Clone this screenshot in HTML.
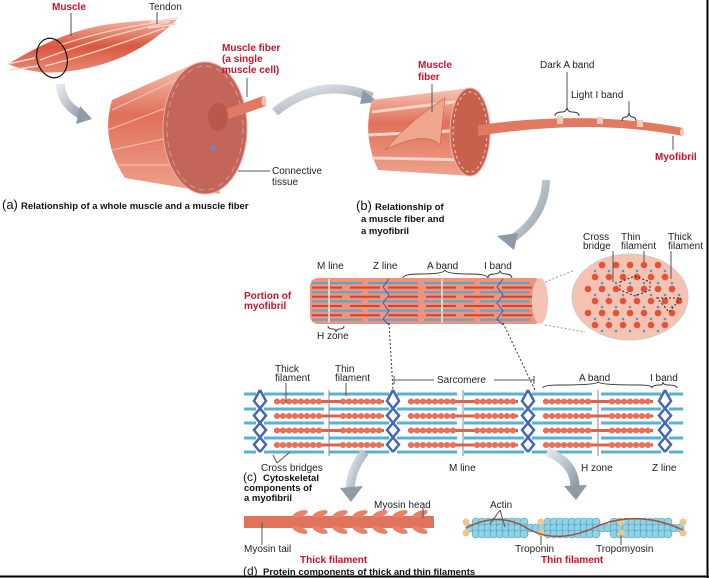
<!DOCTYPE html>
<html><head><meta charset="utf-8">
<style>
html,body{margin:0;padding:0;background:#fff;}
svg{display:block;font-family:"Liberation Sans",Arial,sans-serif;}
.l{font-size:10px;fill:#222;}
.r{font-size:10px;fill:#d0102a;font-weight:bold;}
.c{font-size:9.5px;fill:#111;font-weight:bold;}
.p{font-size:13px;fill:#111;}
</style></head><body>
<svg id="s" width="709" height="578" viewBox="0 0 709 578">
<defs>
<linearGradient id="mus" x1="0" y1="0" x2="0" y2="1"><stop offset="0" stop-color="#f2b3a0"/><stop offset=".5" stop-color="#d9583f"/><stop offset="1" stop-color="#e88a74"/></linearGradient>
<linearGradient id="cyl" x1="0" y1="0" x2="0" y2="1"><stop offset="0" stop-color="#f6c6b5"/><stop offset=".4" stop-color="#e0705a"/><stop offset="1" stop-color="#eea38e"/></linearGradient>
<linearGradient id="arr" x1="0" y1="0" x2="1" y2="1"><stop offset="0" stop-color="#e6eaee"/><stop offset="1" stop-color="#8e9aa6"/></linearGradient>
</defs>
<rect width="709" height="578" fill="#fff"/>
<line x1="707.5" y1="0" x2="707.5" y2="578" stroke="#000" stroke-width="2"/>
<line x1="0" y1="576.5" x2="709" y2="576.5" stroke="#000" stroke-width="2"/>

<!-- (a) whole muscle -->
<path d="M8,64 C40,45 70,30 110,24 C140,20 160,20 177,20 C165,30 150,45 120,58 C90,70 60,74 40,72 C25,70 15,67 8,64 Z" fill="url(#mus)"/>
<path d="M40,60 C80,45 120,32 170,22 M45,66 C90,55 130,40 165,28 M60,45 C90,35 130,25 170,21" stroke="#f6d0c4" stroke-width="1.3" fill="none"/>
<path d="M8,64 L35,58 M10,70 L38,66 M150,22 L178,18 M148,28 L176,24" stroke="#f3d7cf" stroke-width="1.5"/>
<ellipse cx="52" cy="58" rx="15" ry="20" fill="none" stroke="#111" stroke-width="1.2" transform="rotate(-15 52 58)"/>
<line x1="71" y1="13" x2="71" y2="36" stroke="#555"/>
<line x1="157" y1="12" x2="157" y2="24" stroke="#555"/>
<text x="52" y="10" class="r">Muscle</text>
<text x="149" y="10" class="l">Tendon</text>
<path d="M60,84 Q62,106 84,116" stroke="url(#arr)" stroke-width="9" fill="none"/>
<path d="M80,106 L92,119 L76,124 Z" fill="#8e9aa6"/>
<!-- cylinder a -->
<path d="M112,100 L198,62 L220,194 L125,178 Q100,140 112,100 Z" fill="url(#cyl)"/>
<path d="M112,110 L197,70 M108,130 L200,95 M112,150 L205,130 M118,165 L210,165" stroke="#f5c3b3" stroke-width="1" fill="none"/>
<ellipse cx="205" cy="128" rx="42" ry="66" fill="#c4655a" stroke="#e6b0a3"/>
<ellipse cx="205" cy="128" rx="38" ry="62" fill="none" stroke="#d99a90" stroke-dasharray="6 4"/>
<path d="M215,113 L263,96 L266,106 L220,122 Z" fill="#e07a62"/>
<ellipse cx="218" cy="117" rx="10" ry="14" fill="#b6584a"/>
<ellipse cx="264" cy="101" rx="2.5" ry="5" fill="#f3c0b0"/>
<circle cx="213" cy="148" r="2.5" fill="#5a8ed0"/>
<line x1="247" y1="78" x2="247" y2="97" stroke="#555"/>
<text x="222" y="51" class="r">Muscle fiber</text>
<text x="222" y="62" class="r">(a single</text>
<text x="222" y="73" class="r">muscle cell)</text>
<line x1="238" y1="171" x2="270" y2="171" stroke="#555"/>
<text x="272" y="174" class="l">Connective</text>
<text x="272" y="185" class="l">tissue</text>
<text x="2" y="209" class="p">(a)</text>
<text x="21" y="209" class="c">Relationship of a whole muscle and a muscle fiber</text>
<path d="M275,112 Q320,75 372,97" stroke="url(#arr)" stroke-width="9" fill="none"/>
<path d="M363,90 L378,102 L360,104 Z" fill="#8e9aa6"/>

<!-- (b) -->
<path d="M372,100 L470,88 L472,176 L378,170 Q362,135 372,100 Z" fill="url(#cyl)"/>
<path d="M372,112 L470,100 M368,135 L470,130 M372,158 L470,160" stroke="#f6d3c6" stroke-width="3" fill="none"/>
<path d="M385,150 Q410,120 445,98 L440,145 Q425,130 385,150 Z" fill="#f0a58d" stroke="#c7604c" stroke-width=".6"/>
<ellipse cx="470" cy="132" rx="20" ry="44" fill="#c8604e" stroke="#f0b5a5"/>
<ellipse cx="470" cy="132" rx="17" ry="40" fill="none" stroke="#f3c8bb" stroke-dasharray="3 3"/>
<path d="M478,125 Q590,110 683,128 L683,136 Q590,118 478,136 Z" fill="#e27a62"/>
<path d="M560,116 L560,124 M600,117 L600,124 M640,120 L640,127" stroke="#f6c9ba" stroke-width="6"/>
<ellipse cx="682" cy="132" rx="2" ry="4" fill="#f3c8bb"/>
<line x1="432" y1="84" x2="432" y2="112" stroke="#555"/>
<text x="418" y="68" class="r">Muscle</text>
<text x="418" y="80" class="r">fiber</text>
<text x="540" y="68" class="l">Dark A band</text>
<text x="571" y="98" class="l">Light I band</text>
<path d="M555,116 Q555,112 562,112 Q566,112 567,108 Q568,112 572,112 Q579,112 579,116" stroke="#333" fill="none"/>
<line x1="567" y1="72" x2="567" y2="108" stroke="#555"/>
<path d="M622,121 Q622,117 626,117 Q628,117 629,113 Q630,117 632,117 Q636,117 636,121" stroke="#333" fill="none"/>
<line x1="629" y1="101" x2="629" y2="113" stroke="#555"/>
<line x1="673" y1="136" x2="673" y2="150" stroke="#555"/>
<text x="655" y="160" class="r">Myofibril</text>
<text x="356" y="210" class="p">(b)</text>
<text x="375" y="210" class="c">Relationship of</text>
<text x="361" y="222" class="c">a muscle fiber and</text>
<text x="361" y="234" class="c">a myofibril</text>
<path d="M546,180 Q545,218 510,240" stroke="url(#arr)" stroke-width="8" fill="none"/>
<path d="M497,236 L514,250 L518,233 Z" fill="#8e9aa6"/>

<!-- portion of myofibril -->
<g id="myo"></g>
<text x="244" y="299" class="r">Portion of</text>
<text x="244" y="309" class="r">myofibril</text>
<text x="317" y="269" class="l">M line</text>
<text x="373" y="269" class="l">Z line</text>
<text x="427" y="269" class="l">A band</text>
<text x="484" y="269" class="l">I band</text>
<text x="317" y="339" class="l">H zone</text>
<path d="M328,326 Q328,329 333,329 Q336,329 336,332 Q336,329 340,329 Q344,329 344,326" stroke="#333" fill="none"/>
<path d="M403,278 Q403,274 420,274 Q444,274 445,270 Q446,274 470,274 Q487,274 488,278" stroke="#333" fill="none"/>
<path d="M488,278 Q488,274 494,274 Q499,274 500,271 Q501,274 506,274 Q511,274 512,278" stroke="#333" fill="none"/>
<!-- cross section -->
<line x1="545" y1="282" x2="575" y2="270" stroke="#999" stroke-dasharray="2 2"/>
<line x1="545" y1="325" x2="585" y2="332" stroke="#999" stroke-dasharray="2 2"/>
<ellipse cx="630" cy="297" rx="58" ry="43" fill="#f6c3b2" stroke="#ccc"/>
<g id="xs"></g>
<polygon points="620,282 635,276 650,282 650,290 635,296 620,290" fill="none" stroke="#222" stroke-dasharray="2 2"/>
<polygon points="657,298 681,298 669,312" fill="none" stroke="#222" stroke-dasharray="2 2"/>
<text x="583" y="240" class="l">Cross</text><text x="583" y="249" class="l">bridge</text>
<text x="621" y="240" class="l">Thin</text><text x="621" y="249" class="l">filament</text>
<text x="668" y="240" class="l">Thick</text><text x="668" y="249" class="l">filament</text>
<line x1="613" y1="251" x2="613" y2="282" stroke="#555"/>
<line x1="644" y1="251" x2="644" y2="262" stroke="#555"/>
<line x1="671" y1="251" x2="671" y2="279" stroke="#555"/>
<line x1="389" y1="323" x2="393" y2="390" stroke="#333" stroke-dasharray="2 2"/>
<line x1="503" y1="323" x2="535" y2="390" stroke="#333" stroke-dasharray="2 2"/>

<!-- sarcomere -->
<g id="sar"></g>
<text x="275" y="372" class="l">Thick</text><text x="275" y="381" class="l">filament</text>
<text x="335" y="372" class="l">Thin</text><text x="335" y="381" class="l">filament</text>
<line x1="286" y1="383" x2="286" y2="402" stroke="#555"/>
<line x1="346" y1="383" x2="346" y2="396" stroke="#555"/>
<line x1="394" y1="380" x2="434" y2="380" stroke="#555"/>
<line x1="494" y1="380" x2="534" y2="380" stroke="#555"/>
<path d="M394,376 L394,384 M534,376 L534,384" stroke="#555"/>
<text x="437" y="383" class="l">Sarcomere</text>
<text x="579" y="381" class="l">A band</text>
<text x="650" y="381" class="l">I band</text>
<path d="M543,388 Q543,385 560,385 Q596,385 598,382 Q600,385 640,385 Q652,385 652,388" stroke="#333" fill="none"/>
<path d="M652,388 Q652,385 660,385 Q663,385 663,382 Q663,385 668,385 Q677,385 677,388" stroke="#333" fill="none"/>
<text x="261" y="471" class="l">Cross bridges</text>
<path d="M277,463 L273,455 M277,463 L290,452" stroke="#555"/>
<text x="449" y="471" class="l">M line</text>
<text x="581" y="471" class="l">H zone</text>
<text x="652" y="471" class="l">Z line</text>
<text x="243" y="481" class="p" style="font-size:12px">(c)</text>
<text x="263" y="481" class="c">Cytoskeletal</text>
<text x="244" y="491" class="c">components of</text>
<text x="244" y="501" class="c">a myofibril</text>
<path d="M365,452 Q350,470 350,492" stroke="url(#arr)" stroke-width="9" fill="none"/>
<path d="M340,488 L351,502 L363,486 Z" fill="#8e9aa6"/>
<path d="M547,452 Q575,462 575,488" stroke="url(#arr)" stroke-width="9" fill="none"/>
<path d="M564,486 L576,500 L587,485 Z" fill="#8e9aa6"/>

<!-- (d) thick filament -->
<rect x="244" y="516" width="190" height="12" fill="#e0735c"/>
<g id="heads"></g>
<line x1="262" y1="522" x2="262" y2="545" stroke="#555"/>
<line x1="423" y1="508" x2="423" y2="518" stroke="#555"/>
<text x="374" y="508" class="l">Myosin head</text>
<text x="244" y="552" class="l">Myosin tail</text>
<text x="300" y="563" class="r">Thick filament</text>
<!-- thin filament -->
<g id="actin"></g>
<path d="M466,528 Q500,510 530,530 Q560,545 600,525 Q640,510 683,530" stroke="#a0523a" stroke-width="1.5" fill="none"/>
<line x1="541" y1="536" x2="541" y2="545" stroke="#555"/>
<line x1="621" y1="535" x2="621" y2="545" stroke="#555"/>
<path d="M500,510 L490,524 M500,510 L505,527" stroke="#555"/>
<text x="490" y="508" class="l">Actin</text>
<text x="515" y="552" class="l">Troponin</text>
<text x="596" y="552" class="l">Tropomyosin</text>
<text x="541" y="563" class="r">Thin filament</text>
<text x="243" y="575" class="p" style="font-size:12px">(d)</text>
<text x="263" y="575" class="c">Protein components of thick and thin filaments</text>
</svg>
<script>
var NS="http://www.w3.org/2000/svg";
function el(p,t,a){var e=document.createElementNS(NS,t);for(var k in a)e.setAttribute(k,a[k]);document.getElementById(p).appendChild(e);return e;}
el("myo","rect",{x:310,y:278,width:232,height:46,rx:8,fill:"#f0937c"});
for(var i=0;i<9;i++){var y=283+i*4.6;
 el("myo","line",{x1:312,y1:y,x2:540,y2:y,stroke:(i%2?"#d6412f":"#4fa9cf"),"stroke-width":2,"stroke-dasharray":(i%2?"30 8":"50 6")});}
[329,442].forEach(function(x){el("myo","line",{x1:x,y1:279,x2:x,y2:323,stroke:"#f5d2c6","stroke-width":2});});
[389,503].forEach(function(x){el("myo","path",{d:"M"+x+",279 l-6,8 l6,8 l-6,8 l6,8 l-6,8 l6,6",stroke:"#3a5fb0",fill:"none","stroke-width":1});});
el("myo","ellipse",{cx:540,cy:301,rx:8,ry:23,fill:"#f5c3b3"});
for(var r=0;r<6;r++)for(var c=0;c<7;c++){var x=588+c*14+(r%2)*7,y=265+r*12;
 if(((x-630)/58)**2+((y-297)/43)**2<0.85){el("xs","circle",{cx:x,cy:y,r:3.3,fill:"#e0533a"});}
 var x2=x+7,y2=y+6;if(((x2-630)/58)**2+((y2-297)/43)**2<0.9)el("xs","circle",{cx:x2,cy:y2,r:1.3,fill:"#3aa3cc"});}
var Z=[260,393,528,665];
var thin=[394,409,423,438,452];
thin.forEach(function(y){
 for(var k=0;k<Z.length;k++){
  if(Z[k]>250)el("sar","line",{x1:Math.max(244,Z[k]-64),y1:y,x2:Z[k]-4,y2:y,stroke:"#58b2d3","stroke-width":3});
  el("sar","line",{x1:Z[k]+4,y1:y,x2:Math.min(683,Z[k]+64),y2:y,stroke:"#58b2d3","stroke-width":3});}
});
Z.forEach(function(x){var d="M"+x+",390";for(var i=0;i<4;i++){var y0=394+i*14.5;d+=" L"+(x-6)+","+(y0+7)+" L"+x+","+(y0+14.5);}
 el("sar","path",{d:d,stroke:"#4766b5",fill:"none","stroke-width":2.5});
 var d2="M"+x+",390";for(var i=0;i<4;i++){var y0=394+i*14.5;d2+=" L"+(x+6)+","+(y0+7)+" L"+x+","+(y0+14.5);}
 el("sar","path",{d:d2,stroke:"#4766b5",fill:"none","stroke-width":2.5});});
var M=[329,463,598];
[401.5,416,430.5,445].forEach(function(y){
 M.forEach(function(m){
  el("sar","line",{x1:m-55,y1:y,x2:m+55,y2:y,stroke:"#e0604a","stroke-width":3});
  for(var x=m-52;x<=m+52;x+=6){if(Math.abs(x-m)<10)continue;el("sar","circle",{cx:x,cy:y,r:3,fill:"#e8705a"});}
 });});
M.forEach(function(m){el("sar","line",{x1:m,y1:390,x2:m,y2:456,stroke:"#888","stroke-width":1});});
for(var x=300;x<=430;x+=20){el("heads","ellipse",{cx:x,cy:514,rx:8,ry:3,fill:"#e8806a",transform:"rotate(-20 "+x+" 514)"});
 el("heads","ellipse",{cx:x,cy:530,rx:8,ry:3,fill:"#e8806a",transform:"rotate(20 "+x+" 530)"});}
for(var x=470;x<=680;x+=6){for(var j=0;j<3;j++){var yy=520+j*6+((x%12)?2:0);
 var w=Math.abs(Math.sin((x-466)/70*Math.PI));if(j!=1&&w<0.3)continue;
 el("actin","circle",{cx:x,cy:yy,r:4,fill:"#8fd3e6",stroke:"#4e97b8","stroke-width":.6});}}
[466,541,621,683].forEach(function(x){el("actin","circle",{cx:x,cy:522,r:3.5,fill:"#f0c58a"});el("actin","circle",{cx:x,cy:533,r:3.5,fill:"#f0c58a"});});
</script>
</body></html>
